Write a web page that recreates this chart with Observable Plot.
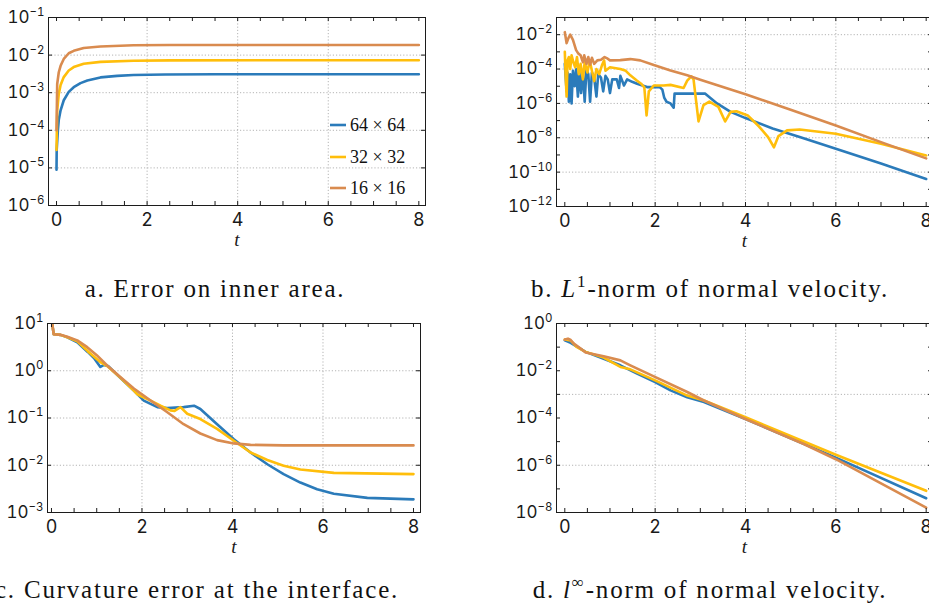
<!DOCTYPE html>
<html>
<head>
<meta charset="utf-8">
<script src="https://cdn.jsdelivr.net/npm/d3@7"></script>
<script src="https://cdn.jsdelivr.net/npm/@observablehq/plot@0.6"></script>
<style>
  html, body { margin: 0; padding: 0; background: #fff; }
  body { width: 929px; height: 607px; overflow: hidden; position: relative; }
  .panel { position: absolute; }
  .panel svg { max-width: none !important; }
  #overlay { position: absolute; left: 0; top: 0; pointer-events: none; }
</style>
</head>
<body>
<div id="pa" class="panel" style="left:0px;top:0px;width:440px;height:260px"></div>
<div id="pb" class="panel" style="left:470px;top:0px;width:470px;height:260px"></div>
<div id="pc" class="panel" style="left:0px;top:306px;width:440px;height:260px"></div>
<div id="pd" class="panel" style="left:470px;top:306px;width:470px;height:260px"></div>
<svg id="overlay" width="929" height="607"></svg>
<script>
// ---------- series names & colours ----------
const seriesNames = ["64 \u00d7 64", "32 \u00d7 32", "16 \u00d7 16"];
const seriesColors = ["#2b7bba", "#ffbe0b", "#d98b4f"];

// ---------- shared x ticks ----------
const xTickPos = [0, 0.5, 1, 1.5, 2, 2.5, 3, 3.5, 4, 4.5, 5, 5.5, 6, 6.5, 7, 7.5, 8];
const xLabelTicks = [0, 2, 4, 6, 8];
const xGrid = [2, 4, 6];

// ---------- panel a: error on inner area ----------
const a64 = [[0, 9e-6], [0.004, 3e-5], [0.03, 1e-4], [0.05, 1.9e-4], [0.09, 3.4e-4], [0.16, 6.3e-4], [0.27, 1.05e-3], [0.38, 1.4e-3], [0.53, 1.8e-3], [0.68, 2.1e-3], [0.97, 2.55e-3], [1.34, 2.8e-3], [1.7, 2.95e-3], [2.4, 3.05e-3], [3.5, 3.1e-3], [8, 3.1e-3]];
const a32 = [[0, 3e-5], [0.015, 3.4e-4], [0.05, 9.3e-4], [0.09, 1.6e-3], [0.16, 2.6e-3], [0.27, 3.9e-3], [0.38, 4.8e-3], [0.6, 5.9e-3], [0.97, 6.6e-3], [1.7, 7.1e-3], [2.5, 7.25e-3], [8, 7.3e-3]];
const a16 = [[0, 1e-4], [0.015, 1.7e-3], [0.05, 3.5e-3], [0.09, 5.2e-3], [0.16, 7.9e-3], [0.27, 1.12e-2], [0.38, 1.3e-2], [0.6, 1.55e-2], [0.97, 1.7e-2], [1.7, 1.82e-2], [2.5, 1.85e-2], [8, 1.86e-2]];
const aYTicks = [1e-6, 1e-5, 1e-4, 1e-3, 1e-2, 1e-1];
const aYLabelTicks = [1e-6, 1e-5, 1e-4, 1e-3, 1e-2, 1e-1];
const aYLabels = ["10^\u22126", "10^\u22125", "10^\u22124", "10^\u22123", "10^\u22122", "10^\u22121"];
const aYGrid = [1e-5, 1e-4, 1e-3, 1e-2];

// ---------- panel b: L1-norm of normal velocity ----------
const b64 = [[0, 2.0e-4], [0.02, 3.2e-5], [0.04, 5.0e-6], [0.06, 6.3e-5], [0.09, 1.26e-6], [0.12, 5.0e-5], [0.15, 1.0e-6], [0.18, 7.9e-5], [0.22, 1.0e-5], [0.25, 1.0e-4], [0.29, 2.5e-6], [0.32, 7.9e-5], [0.36, 4.0e-6], [0.4, 7.9e-5], [0.44, 1.26e-6], [0.48, 1.0e-4], [0.52, 5.0e-5], [0.56, 1.26e-6], [0.6, 6.3e-5], [0.65, 3.2e-5], [0.7, 2.5e-6], [0.74, 5.0e-5], [0.8, 3.2e-5], [0.85, 5.0e-6], [0.9, 4.0e-5], [0.95, 2.5e-5], [1.0, 4.0e-6], [1.05, 2.5e-5], [1.15, 2.5e-5], [1.2, 7.9e-6], [1.23, 4.0e-5], [1.31, 1.1e-5], [1.38, 2.5e-5], [1.49, 1.8e-5], [1.6, 1.4e-5], [1.82, 8.9e-6], [1.97, 8.9e-6], [2.1, 8.9e-6], [2.16, 6.3e-6], [2.2, 2.2e-6], [2.25, 1.26e-6], [2.34, 1.0e-6], [2.41, 5.6e-7], [2.43, 3.7e-6], [3.11, 3.7e-6], [3.37, 1.0e-6], [3.67, 3.2e-7], [4.0, 1.4e-7], [4.6, 3.5e-8], [5.2, 1.1e-8], [6, 2.3e-9], [7, 3.2e-10], [8, 4.0e-11]];
const b32 = [[0, 1.0e-3], [0.02, 3.2e-5], [0.04, 2.5e-6], [0.06, 3.2e-4], [0.09, 5.0e-4], [0.12, 1.0e-4], [0.15, 6.3e-4], [0.19, 2.5e-4], [0.23, 1.26e-4], [0.27, 5.0e-4], [0.31, 5.0e-5], [0.35, 2.0e-4], [0.4, 2.5e-5], [0.44, 2.5e-4], [0.5, 6.3e-5], [0.55, 3.2e-4], [0.6, 7.9e-5], [0.65, 2.0e-5], [0.7, 1.0e-4], [0.76, 5.0e-5], [0.82, 1.6e-4], [0.87, 3.2e-4], [0.9, 7.9e-5], [0.95, 1.0e-4], [1.0, 1.26e-4], [1.23, 1.0e-4], [1.35, 7.9e-5], [1.45, 4.3e-5], [1.6, 2.1e-5], [1.69, 1.4e-5], [1.76, 8.7e-6], [1.81, 2.0e-7], [1.86, 5.0e-6], [1.97, 1.1e-5], [2.19, 1.1e-5], [2.34, 1.2e-5], [2.63, 7.9e-6], [2.71, 2.1e-5], [2.8, 3.8e-5], [2.85, 2.5e-5], [2.96, 8.9e-8], [3.07, 7.9e-7], [3.2, 1.26e-6], [3.4, 6.3e-7], [3.55, 8.9e-8], [3.67, 3.2e-7], [3.8, 3.5e-7], [4.05, 2.0e-7], [4.3, 4.5e-8], [4.5, 1.1e-8], [4.63, 2.8e-9], [4.73, 1.26e-8], [4.92, 2.7e-8], [5.2, 3.0e-8], [6, 1.7e-8], [7, 4.5e-9], [8, 9.3e-10]];
const b16 = [[0, 1.4e-2], [0.04, 3.2e-3], [0.08, 6.3e-3], [0.12, 1.0e-2], [0.18, 5.0e-3], [0.25, 1.26e-3], [0.3, 7.9e-4], [0.35, 6.3e-4], [0.4, 2.5e-4], [0.43, 6.3e-4], [0.48, 2.0e-4], [0.52, 5.0e-4], [0.56, 1.8e-4], [0.6, 4.5e-4], [0.65, 2.0e-4], [0.72, 3.2e-4], [0.8, 3.5e-4], [0.88, 5.0e-4], [0.95, 4.0e-4], [1.0, 3.2e-4], [1.23, 3.3e-4], [1.45, 3.8e-4], [1.67, 3.2e-4], [1.97, 1.7e-4], [2.34, 8.3e-5], [2.71, 4.3e-5], [3.0, 2.4e-5], [3.5, 8.9e-6], [4.0, 3.4e-6], [5, 4.3e-7], [6, 5.2e-8], [7, 5.6e-9], [8, 6.3e-10]];
const bYTicks = [1e-12, 1e-11, 1e-10, 1e-9, 1e-8, 1e-7, 1e-6, 1e-5, 1e-4, 1e-3, 1e-2, 1e-1];
const bYLabelTicks = [1e-12, 1e-10, 1e-8, 1e-6, 1e-4, 1e-2];
const bYLabels = ["10^\u221212", "10^\u221210", "10^\u22128", "10^\u22126", "10^\u22124", "10^\u22122"];
const bYGrid = [1e-10, 1e-8, 1e-6, 1e-4, 1e-2];

// ---------- panel c: curvature error ----------
const c64 = [[0, 12.6], [0.05, 5.9], [0.2, 5.75], [0.35, 5.1], [0.57, 4.0], [0.8, 2.5], [0.95, 1.8], [1.08, 1.2], [1.15, 1.32], [1.25, 1.26], [1.52, 0.71], [1.82, 0.38], [2.04, 0.234], [2.34, 0.17], [2.56, 0.162], [2.92, 0.17], [3.15, 0.182], [3.29, 0.155], [3.66, 0.074], [4.03, 0.0355], [4.4, 0.0186], [4.77, 0.0105], [5.13, 0.0065], [5.5, 0.0043], [5.87, 0.0031], [6.24, 0.0025], [6.98, 0.00204], [8, 0.0019]];
const c32 = [[0, 12.6], [0.05, 5.9], [0.2, 5.75], [0.35, 5.1], [0.57, 4.2], [0.8, 2.6], [1.0, 1.78], [1.1, 1.48], [1.23, 1.26], [1.52, 0.72], [1.82, 0.38], [1.9, 0.316], [1.95, 0.3], [2.19, 0.234], [2.41, 0.182], [2.63, 0.145], [2.72, 0.141], [2.85, 0.17], [3.0, 0.123], [3.29, 0.095], [3.66, 0.059], [4.03, 0.033], [4.4, 0.0186], [4.77, 0.0129], [5.13, 0.0098], [5.5, 0.0081], [6.24, 0.0069], [8, 0.0065]];
const c16 = [[0, 12.6], [0.05, 5.9], [0.2, 5.75], [0.35, 5.25], [0.57, 4.4], [0.79, 3.16], [1.0, 2.14], [1.23, 1.29], [1.52, 0.74], [1.82, 0.42], [2.19, 0.234], [2.56, 0.132], [2.92, 0.074], [3.29, 0.047], [3.66, 0.034], [4.03, 0.029], [4.4, 0.027], [5.13, 0.0263], [8, 0.0263]];
const cYTicks = [1e-3, 1e-2, 1e-1, 1, 10];
const cYLabelTicks = [1e-3, 1e-2, 1e-1, 1, 10];
const cYLabels = ["10^\u22123", "10^\u22122", "10^\u22121", "10^0", "10^1"];
const cYGrid = [1e-2, 1e-1, 1];

// ---------- panel d: l-infinity norm of normal velocity ----------
const d64 = [[0, 0.195], [0.13, 0.151], [0.46, 0.063], [0.86, 0.032], [1.23, 0.017], [1.6, 7.6e-3], [2, 3.3e-3], [2.34, 1.48e-3], [2.71, 7.6e-4], [3.08, 4.7e-4], [4, 9.1e-5], [6, 2.1e-6], [8, 4.0e-8]];
const d32 = [[0, 0.209], [0.13, 0.19], [0.26, 0.102], [0.46, 0.063], [0.86, 0.036], [1.1, 0.02], [1.23, 0.0145], [1.45, 0.0115], [2, 3.9e-3], [2.71, 8.9e-4], [3.08, 5.5e-4], [4, 1.07e-4], [6, 2.8e-6], [8, 8.3e-8]];
const d16 = [[0, 0.209], [0.07, 0.229], [0.13, 0.2], [0.2, 0.141], [0.35, 0.087], [0.46, 0.059], [0.86, 0.041], [1.23, 0.0275], [1.45, 0.017], [1.97, 5.75e-3], [2.71, 1.26e-3], [3.08, 5.5e-4], [4, 9.1e-5], [5.29, 7.9e-6], [6, 1.8e-6], [8, 1.6e-8]];
const dYTicks = [1e-8, 1e-7, 1e-6, 1e-5, 1e-4, 1e-3, 1e-2, 1e-1, 1];
const dYLabelTicks = [1e-8, 1e-6, 1e-4, 1e-2, 1];
const dYLabels = ["10^\u22128", "10^\u22126", "10^\u22124", "10^\u22122", "10^0"];
const dYGrid = [1e-6, 1e-3];

// ---------- captions ----------
const captions = [
  {x: 215, y: 297, parts: [["a. Error on inner area."]]},
  {x: 710, y: 297, parts: [["b. "], ["L", "i"], ["1", "sup"], ["-norm of normal velocity."]]},
  {x: 197, y: 598, parts: [["c. Curvature error at the interface."]]},
  {x: 710, y: 598, parts: [["d. "], ["l", "i"], ["\u221e", "sup"], ["-norm of normal velocity."]]}
];

const FRAME = "#1c1c1c";
const GRID = "#b4b4b4";
const TICKFONT = "Inter, 'Open Sans', sans-serif";
const SERIF = "'Liberation Serif', 'DejaVu Serif', serif";

function supify(svg) {
  svg.querySelectorAll("text").forEach(t => {
    const s = t.textContent;
    if (!s.includes("^")) return;
    const [base, exp] = s.split("^");
    t.textContent = base;
    const ts = document.createElementNS("http://www.w3.org/2000/svg", "tspan");
    ts.setAttribute("dy", "-7");
    ts.setAttribute("font-size", "11.5");
    ts.textContent = exp;
    t.appendChild(ts);
  });
}

function makePanel(p) {
  const pw = p.width - p.ml - p.mr, ph = p.height - p.mt - p.mb;
  const marks = [
    Plot.gridX(xGrid, {x: d => d, stroke: GRID, strokeOpacity: 1, strokeWidth: 1, strokeDasharray: "1.2,2"}),
    Plot.gridY(p.yGrid, {y: d => d, stroke: GRID, strokeOpacity: 1, strokeWidth: 1, strokeDasharray: "1.2,2"}),
    ...p.series.map((s, i) => Plot.line(s, {x: d => d[0], y: d => d[1], stroke: seriesColors[i], strokeWidth: 2.6, clip: true})),
    Plot.frame({stroke: FRAME, strokeWidth: 1}),
    Plot.tickX(xTickPos, {x: d => d, insetTop: ph - 4, stroke: FRAME}),
    Plot.tickX(xTickPos, {x: d => d, insetBottom: ph - 4, stroke: FRAME}),
    Plot.tickY(p.yTicks, {y: d => d, insetRight: pw - 4, stroke: FRAME}),
    Plot.tickY(p.yTicks, {y: d => d, insetLeft: pw - 4, stroke: FRAME}),
    Plot.axisX({ticks: xLabelTicks, tickSize: 0, tickPadding: 8, tickFormat: d => String(d), label: null, fontSize: 18}),
    Plot.axisY({ticks: p.yLabelTicks, tickSize: 0, tickPadding: 4, tickFormat: d => p.yLabels[p.yLabelTicks.indexOf(d)], label: null, fontSize: 17}),
    Plot.text(["t"], {text: d => d, frameAnchor: "bottom", dy: 40, fontFamily: SERIF, fontStyle: "italic", fontSize: 19})
  ];
  const svg = Plot.plot({
    width: p.width, height: p.height,
    marginLeft: p.ml, marginRight: p.mr, marginTop: p.mt, marginBottom: p.mb,
    x: {domain: p.xDomain},
    y: {type: "log", domain: p.yDomain},
    style: {fontFamily: TICKFONT, fontSize: "17px", color: "#1a1a1a", background: "transparent", overflow: "visible", maxWidth: "none"},
    marks
  });
  supify(svg);
  document.getElementById(p.id).appendChild(svg);
}

makePanel({id: "pa", width: 440, height: 260, ml: 48, mr: 15, mt: 17, mb: 55,
  xDomain: [-0.177, 8.147], yDomain: [1e-6, 1e-1], series: [a64, a32, a16],
  yTicks: aYTicks, yLabelTicks: aYLabelTicks, yLabels: aYLabels, yGrid: aYGrid});
makePanel({id: "pb", width: 470, height: 260, ml: 86, mr: 8, mt: 17, mb: 54,
  xDomain: [-0.184, 8.14], yDomain: [1e-12, 1e-1], series: [b64, b32, b16],
  yTicks: bYTicks, yLabelTicks: bYLabelTicks, yLabels: bYLabels, yGrid: bYGrid});
makePanel({id: "pc", width: 440, height: 260, ml: 47, mr: 20, mt: 17, mb: 54,
  xDomain: [-0.088, 8.155], yDomain: [1e-3, 10], series: [c64, c32, c16],
  yTicks: cYTicks, yLabelTicks: cYLabelTicks, yLabels: cYLabels, yGrid: cYGrid});
makePanel({id: "pd", width: 470, height: 260, ml: 86, mr: 8, mt: 17, mb: 54,
  xDomain: [-0.184, 8.14], yDomain: [1e-8, 1], series: [d64, d32, d16],
  yTicks: dYTicks, yLabelTicks: dYLabelTicks, yLabels: dYLabels, yGrid: dYGrid});

// ---------- overlay: captions and legend ----------
const ov = d3.select("#overlay");
captions.forEach(c => {
  const t = ov.append("text").attr("x", c.x).attr("y", c.y).attr("text-anchor", "middle")
    .attr("font-family", SERIF).attr("font-size", 25).attr("letter-spacing", 1.8).attr("fill", "#111");
  let raised = false;
  c.parts.forEach(([s, kind]) => {
    const ts = t.append("tspan").text(s);
    if (kind === "i") ts.attr("font-style", "italic");
    if (kind === "sup") { ts.attr("font-size", 17).attr("dy", -10); raised = true; }
    else if (raised) { ts.attr("dy", 10); raised = false; }
  });
});
const legendY = [125, 157, 188];
seriesNames.forEach((name, i) => {
  ov.append("line").attr("x1", 330).attr("x2", 346).attr("y1", legendY[i]).attr("y2", legendY[i])
    .attr("stroke", seriesColors[i]).attr("stroke-width", 2.6);
  ov.append("text").attr("x", 350).attr("y", legendY[i] + 6).attr("font-family", SERIF)
    .attr("font-size", 18).attr("fill", "#111").text(name);
});
</script>
</body>
</html>
